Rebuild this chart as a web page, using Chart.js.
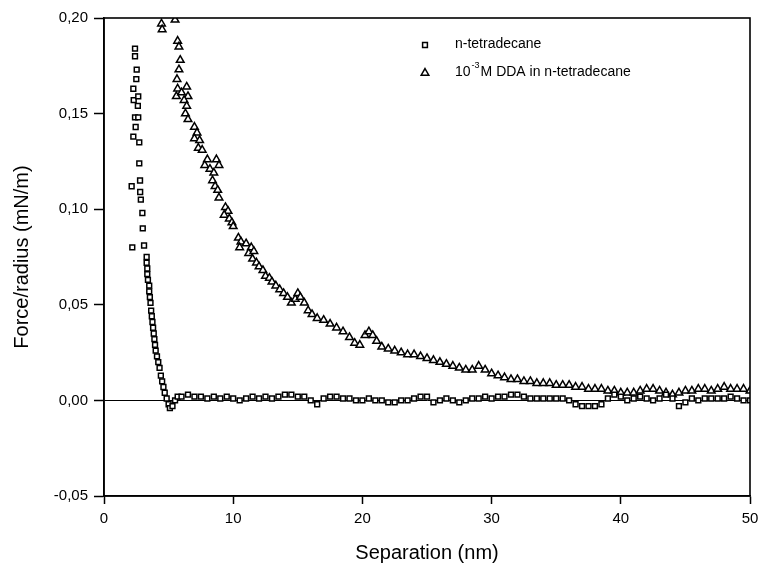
<!DOCTYPE html>
<html>
<head>
<meta charset="utf-8">
<script src="https://cdn.jsdelivr.net/npm/chart.js@4"></script>
<style>
    html, body { margin: 0; padding: 0; background: #fff; }
    #wrap { width: 762px; height: 568px; }
</style>
</head>
<body>
<div id="wrap"><canvas id="forceChart" width="762" height="568"></canvas></div>
<script>
// ── Datos ────────────────────────────────────────────────
// n-tetradecane (cuadrados)
var squareX = [
    2.40, 2.40, 2.53, 2.50, 2.27, 2.30, 2.65, 2.62, 2.40, 2.45, 2.65, 2.27, 2.73, 2.73,
    2.14, 2.79, 2.80, 2.85, 2.97, 3.00, 2.19, 3.10,
    3.30, 3.30, 3.35, 3.35, 3.40, 3.50, 3.50, 3.55, 3.60, 3.65, 3.70, 3.75, 3.80, 3.85,
    3.90, 3.95, 4.00, 4.10, 4.20, 4.30, 4.40, 4.50, 4.60, 4.70, 4.85, 5.00, 5.10, 5.30,
    5.50, 5.70,
    6.0, 6.5, 7.0, 7.5, 8.0, 8.5, 9.0, 9.5, 10.0, 10.5, 11.0, 11.5, 12.0, 12.5, 13.0,
    13.5, 14.0, 14.5, 15.0, 15.5, 16.0, 16.5, 17.0, 17.5, 18.0, 18.5, 19.0, 19.5, 20.0,
    20.5, 21.0, 21.5, 22.0, 22.5, 23.0, 23.5, 24.0, 24.5, 25.0, 25.5, 26.0, 26.5, 27.0,
    27.5, 28.0, 28.5, 29.0, 29.5, 30.0, 30.5, 31.0, 31.5, 32.0, 32.5, 33.0, 33.5, 34.0,
    34.5, 35.0, 35.5, 36.0, 36.5, 37.0, 37.5, 38.0, 38.5, 39.0, 39.5, 40.0, 40.5, 41.0,
    41.5, 42.0, 42.5, 43.0, 43.5, 44.0, 44.5, 45.0, 45.5, 46.0, 46.5, 47.0, 47.5, 48.0,
    48.5, 49.0, 49.5, 50.0
];
var squareY = [
    0.184, 0.180, 0.173, 0.168, 0.163, 0.157, 0.159, 0.154, 0.148, 0.143, 0.148, 0.138, 0.135, 0.124,
    0.112, 0.115, 0.109, 0.105, 0.098, 0.090, 0.080, 0.081,
    0.075, 0.072, 0.069, 0.066, 0.063, 0.060, 0.057, 0.054, 0.051, 0.047, 0.044, 0.041, 0.038, 0.035,
    0.032, 0.029, 0.026, 0.023, 0.020, 0.017, 0.013, 0.010, 0.007, 0.004, 0.001, -0.002, -0.004, -0.003,
    0.000, 0.002,
    0.002, 0.003, 0.002, 0.002, 0.001, 0.002, 0.001, 0.002, 0.001, 0.000, 0.001, 0.002, 0.001, 0.002, 0.001,
    0.002, 0.003, 0.003, 0.002, 0.002, 0.000, -0.002, 0.001, 0.002, 0.002, 0.001, 0.001, 0.000, 0.000,
    0.001, 0.000, 0.000, -0.001, -0.001, 0.000, 0.000, 0.001, 0.002, 0.002, -0.001, 0.000, 0.001, 0.000,
    -0.001, 0.000, 0.001, 0.001, 0.002, 0.001, 0.002, 0.002, 0.003, 0.003, 0.002, 0.001, 0.001, 0.001,
    0.001, 0.001, 0.001, 0.000, -0.002, -0.003, -0.003, -0.003, -0.002, 0.001, 0.003, 0.002, 0.000, 0.001,
    0.002, 0.001, 0.000, 0.001, 0.003, 0.001, -0.003, -0.001, 0.001, 0.000, 0.001, 0.001, 0.001, 0.001,
    0.002, 0.001, 0.000, 0.000
];

// 10^-3 M DDA in n-tetradecane (triángulos)
var triX = [
    4.45, 4.50, 5.50, 5.70, 5.80, 5.90, 5.80, 5.65, 5.70, 5.60, 6.00, 6.40, 6.50, 6.20,
    6.40, 6.30, 6.50, 7.00, 7.20, 7.00, 7.40, 7.30, 7.60, 8.00, 7.80, 8.20, 8.70, 8.90,
    8.50, 8.40, 8.60, 8.80, 8.90, 9.40, 9.60, 9.30, 9.70, 9.90, 10.0, 10.4, 10.6, 10.5,
    11.0, 11.4, 11.2, 11.6, 11.5, 11.8, 12.0, 12.3, 12.5, 12.8, 13.0, 13.3, 13.6, 13.9,
    14.2, 14.5, 14.8, 15.0, 15.2, 15.5, 15.8, 16.1, 16.5, 17.0, 17.5, 18.0, 18.5, 19.0,
    19.4, 19.8, 20.2, 20.5, 20.8, 21.1, 21.5, 22.0, 22.5, 23.0, 23.5, 24.0, 24.5, 25.0,
    25.5, 26.0, 26.5, 27.0, 27.5, 28.0, 28.5, 29.0, 29.5, 30.0, 30.5, 31.0, 31.5, 32.0,
    32.5, 33.0, 33.5, 34.0, 34.5, 35.0, 35.5, 36.0, 36.5, 37.0, 37.5, 38.0, 38.5, 39.0,
    39.5, 40.0, 40.5, 41.0, 41.5, 42.0, 42.5, 43.0, 43.5, 44.0, 44.5, 45.0, 45.5, 46.0,
    46.5, 47.0, 47.5, 48.0, 48.5, 49.0, 49.5, 50.0
];
var triY = [
    0.197, 0.194, 0.199, 0.188, 0.185, 0.178, 0.173, 0.168, 0.163, 0.159, 0.161, 0.164, 0.159, 0.157,
    0.154, 0.150, 0.147, 0.143, 0.140, 0.137, 0.136, 0.132, 0.131, 0.126, 0.123, 0.121, 0.126, 0.123,
    0.119, 0.115, 0.112, 0.110, 0.106, 0.101, 0.099, 0.097, 0.095, 0.093, 0.091, 0.085, 0.083, 0.080,
    0.082, 0.080, 0.077, 0.078, 0.074, 0.072, 0.070, 0.068, 0.065, 0.064, 0.062, 0.060, 0.058, 0.056,
    0.054, 0.051, 0.053, 0.056, 0.054, 0.051, 0.047, 0.045, 0.043, 0.042, 0.040, 0.038, 0.036, 0.033,
    0.030, 0.029, 0.034, 0.036, 0.034, 0.031, 0.028, 0.027, 0.026, 0.025, 0.024, 0.024, 0.023, 0.022,
    0.021, 0.020, 0.019, 0.018, 0.017, 0.016, 0.016, 0.018, 0.016, 0.014, 0.013, 0.012, 0.011, 0.011,
    0.010, 0.010, 0.009, 0.009, 0.009, 0.008, 0.008, 0.008, 0.007, 0.007, 0.006, 0.006, 0.006, 0.005,
    0.005, 0.004, 0.004, 0.004, 0.005, 0.006, 0.006, 0.005, 0.004, 0.003, 0.004, 0.005, 0.005, 0.006,
    0.006, 0.005, 0.006, 0.007, 0.006, 0.006, 0.006, 0.005
];

var xTicks = [0, 10, 20, 30, 40, 50];
var yTicks = [-0.05, 0.00, 0.05, 0.10, 0.15, 0.20];
var seriesLabels = ['n-tetradecane', 'DDA in n-tetradecane'];

(function () {
    'use strict';

    var FONT = "'Liberation Sans', Arial, sans-serif";
    var INK = '#000';
    var SQ_R = 3.4, TRI_R = 4.4, MARK_W = 1.5;

    function toPoints(xs, ys) {
        return xs.map(function (x, i) { return { x: x, y: ys[i] }; });
    }

    // Marco completo + leyenda dentro del área
    var framePlugin = {
        id: 'frame',
        afterDraw: function (chart) {
            var a = chart.chartArea;
            var c = chart.ctx;
            c.save();
            c.strokeStyle = INK;
            c.lineWidth = 1.6;
            c.strokeRect(a.left, a.top, a.right - a.left, a.bottom - a.top);

            // leyenda
            var lx = 425, tx = 455;
            c.fillStyle = '#fff';
            c.strokeStyle = INK;
            c.lineWidth = MARK_W;
            Chart.helpers.drawPoint(c, { pointStyle: 'rect', radius: SQ_R, borderWidth: MARK_W }, lx, 45);
            Chart.helpers.drawPoint(c, { pointStyle: 'triangle', radius: TRI_R, borderWidth: MARK_W }, lx, 73);
            c.fillStyle = INK;
            c.textBaseline = 'middle';
            c.textAlign = 'left';
            c.font = '14px ' + FONT;
            c.fillText(seriesLabels[0], tx, 44);
            c.fillText('10', tx, 72);
            var w10 = c.measureText('10').width;
            c.font = '9px ' + FONT;
            c.fillText('-3', tx + w10 + 1, 66);
            var wsup = c.measureText('-3').width;
            c.font = '14px ' + FONT;
            c.fillText('M ' + seriesLabels[1], tx + w10 + wsup + 2, 72);
            c.restore();
        }
    };

    function commaFmt(v) {
        return v.toFixed(2).replace('.', ',').replace('-0,00', '0,00');
    }

    function initChart() {
        var ctx = document.getElementById('forceChart');

        new Chart(ctx, {
            type: 'scatter',
            data: {
                datasets: [{
                    label: seriesLabels[0],
                    data: toPoints(squareX, squareY),
                    pointStyle: 'rect',
                    pointRadius: SQ_R,
                    pointBorderWidth: MARK_W,
                    borderColor: INK,
                    backgroundColor: '#fff'
                }, {
                    label: seriesLabels[1],
                    data: toPoints(triX, triY),
                    pointStyle: 'triangle',
                    pointRadius: TRI_R,
                    pointBorderWidth: MARK_W,
                    borderColor: INK,
                    backgroundColor: '#fff'
                }]
            },
            options: {
                responsive: false,
                animation: false,
                layout: { padding: { left: 0, right: 12, top: 18, bottom: 0 } },
                plugins: {
                    legend: { display: false },
                    tooltip: { enabled: false }
                },
                scales: {
                    x: {
                        type: 'linear',
                        min: 0,
                        max: 50,
                        afterFit: function (s) {
                            s.height = 72;
                            s.paddingLeft = 0;
                            s.paddingRight = 0;
                        },
                        afterBuildTicks: function (s) {
                            s.ticks = xTicks.map(function (v) { return { value: v }; });
                        },
                        border: { display: true, color: INK, width: 1.6 },
                        grid: {
                            drawOnChartArea: false,
                            drawTicks: true,
                            tickLength: 8,
                            tickColor: INK,
                            tickWidth: 1.5
                        },
                        ticks: {
                            color: INK,
                            padding: 6,
                            font: { family: FONT, size: 15 },
                            callback: function (v) { return String(v); }
                        },
                        title: {
                            display: true,
                            text: 'Separation (nm)',
                            color: INK,
                            font: { family: FONT, size: 20 },
                            padding: { top: 0, bottom: 3 }
                        }
                    },
                    y: {
                        type: 'linear',
                        min: -0.05,
                        max: 0.20,
                        afterFit: function (s) {
                            s.width = 104;
                            s.paddingTop = 0;
                            s.paddingBottom = 0;
                        },
                        afterBuildTicks: function (s) {
                            s.ticks = yTicks.map(function (v) { return { value: v }; });
                        },
                        border: { display: true, color: INK, width: 1.6 },
                        grid: {
                            drawOnChartArea: true,
                            drawTicks: true,
                            tickLength: 10,
                            tickColor: INK,
                            tickWidth: 1.5,
                            lineWidth: 1,
                            color: function (c) {
                                return c.tick && Math.abs(c.tick.value) < 1e-9 ? INK : 'rgba(0,0,0,0)';
                            }
                        },
                        ticks: {
                            color: INK,
                            padding: 6,
                            font: { family: FONT, size: 15 },
                            callback: function (v) { return commaFmt(v); }
                        },
                        title: {
                            display: true,
                            text: 'Force/radius (mN/m)',
                            color: INK,
                            font: { family: FONT, size: 20 },
                            padding: { top: 10, bottom: 0 }
                        }
                    }
                }
            },
            plugins: [framePlugin]
        });
    }

    document.addEventListener('DOMContentLoaded', initChart);
})();
</script>
</body>
</html>
